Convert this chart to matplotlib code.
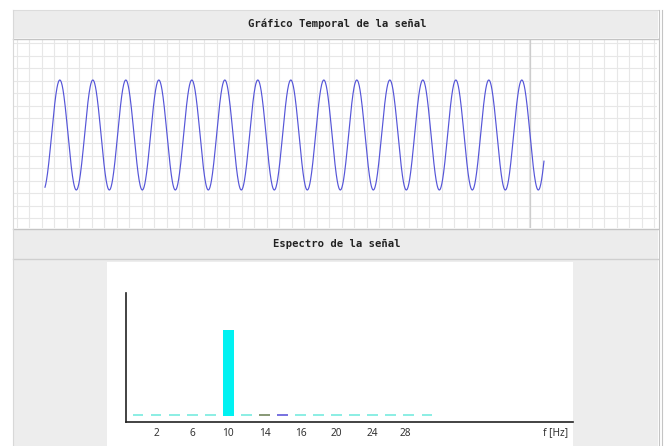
import numpy as np
import matplotlib
matplotlib.use("Agg")
import matplotlib.pyplot as plt
from matplotlib.patches import Rectangle
from matplotlib.lines import Line2D

# ---------------- data ----------------
signal_freq_hz = 10.0          # frequency of the time signal
signal_amplitude = 1.0
signal_phase_rad = -1.25
signal_duration_s = 1.512
signal_samples = 2000

spectrum_values = [0.02, 0.02, 0.02, 0.02, 0.02, 0.98, 0.02, 0.02, 0.02,
                   0.02, 0.02, 0.02, 0.02, 0.02, 0.02, 0.02, 0.02]
spectrum_colors = ['#8eeee4'] * 17
spectrum_colors[5] = '#00f2f2'
spectrum_colors[7] = '#8a9a78'
spectrum_colors[8] = '#7a74e0'
tick_positions = [1, 3, 5, 7, 9, 11, 13, 14.8]
tick_labels = ['2', '6', '10', '14', '16', '20', '24', '28']

title_top = 'Gráfico Temporal de la señal'
title_bottom = 'Espectro de la señal'

# ---------------- figure ----------------
W, H = 665, 446
fig = plt.figure(figsize=(W / 100, H / 100), dpi=100, facecolor='white')


def fx(x):
    return x / W


def fy(y):
    return 1 - y / H


def rect(x0, y0, x1, y1, color, z=0):
    fig.patches.append(Rectangle((fx(x0), fy(y1)), fx(x1) - fx(x0), fy(y0) - fy(y1),
                                 transform=fig.transFigure, facecolor=color,
                                 edgecolor='none', zorder=z))


def hline(x0, x1, y, color, lw=1.0, z=2):
    fig.lines.append(Line2D([fx(x0), fx(x1)], [fy(y), fy(y)], transform=fig.transFigure,
                            color=color, lw=lw, zorder=z))


def vline(x, y0, y1, color, lw=1.0, z=2):
    fig.lines.append(Line2D([fx(x), fx(x)], [fy(y0), fy(y1)], transform=fig.transFigure,
                            color=color, lw=lw, zorder=z))


# header bands & gray panel
rect(13, 10, 658, 38, '#ececec')
rect(13, 229, 658, 259, '#ececec')
rect(13, 259, 658, 446, '#ededed')
rect(107, 262, 573, 446, '#ffffff', z=1)
hline(13, 658, 10, '#dcdcdc', 0.8)
hline(13, 658, 38.5, '#c4c4c4', 1.0)
hline(13, 658, 229, '#c4c4c4', 1.0)
hline(13, 658, 259, '#cfcfcf', 1.0)
vline(13, 10, 446, '#d8d8d8', 0.8)
vline(659, 10, 446, '#c4c4c4', 0.8)
vline(662, 10, 446, '#c4c4c4', 0.8)

fig.text(fx(337), fy(24), title_top, ha='center', va='center',
         family='DejaVu Sans Mono', weight='bold', fontsize=7.6, color='#222222')
fig.text(fx(337), fy(244), title_bottom, ha='center', va='center',
         family='DejaVu Sans Mono', weight='bold', fontsize=7.6, color='#222222')

# ---------------- time plot ----------------
gx0, gx1, gy0, gy1 = 14, 657, 40, 228
axg = fig.add_axes([fx(gx0), fy(gy1), fx(gx1) - fx(gx0), fy(gy0) - fy(gy1)])
axg.set_xlim(gx0, gx1)
axg.set_ylim(gy1, gy0)
axg.set_xticks(np.arange(16.7, gx1, 12.5))
axg.set_yticks(np.arange(43, gy1, 12.5))
axg.grid(True, color='#e7e7e7', lw=0.8)
axg.tick_params(length=0, labelleft=False, labelbottom=False)
for s in axg.spines.values():
    s.set_visible(False)
axg.axvline(530, color='#cdcdcd', lw=0.9)

px_per_s = 330.0
t_start_px = 45.0
mid_px = 135.0
amp_px = 55.0
axw = fig.add_axes(axg.get_position(), facecolor='none')
t = np.linspace(0, signal_duration_s, signal_samples)
y = signal_amplitude * np.sin(2 * np.pi * signal_freq_hz * t + signal_phase_rad)
axw.plot(t, y, color='#5555d8', lw=0.85)
axw.set_xlim((gx0 - t_start_px) / px_per_s, (gx1 - t_start_px) / px_per_s)
axw.set_ylim(-(gy1 - mid_px) / amp_px, (mid_px - gy0) / amp_px)
axw.axis('off')

# ---------------- spectrum ----------------
sx0, sx1, sy0, sy1 = 126, 573, 293, 422
axs = fig.add_axes([fx(sx0), fy(sy1), fx(sx1) - fx(sx0), fy(sy0) - fy(sy1)], facecolor='none')
axs.set_zorder(3)
idx = np.arange(len(spectrum_values))
axs.bar(idx, spectrum_values, width=0.6, color=spectrum_colors, linewidth=0)
bar_px = 18.06
axs.set_xlim((sx0 - 138) / bar_px, (sx1 - 138) / bar_px)
axs.set_ylim(-0.07, 1.4)
axs.set_xticks(tick_positions)
axs.set_xticklabels(tick_labels, family='Noto Sans', fontsize=7.3, color='#333333')
axs.set_yticks([])
axs.tick_params(axis='x', length=0, pad=4)
for s in ['top', 'right']:
    axs.spines[s].set_visible(False)
axs.spines['left'].set_color('#222222')
axs.spines['bottom'].set_color('#222222')
axs.spines['left'].set_linewidth(1.2)
axs.spines['bottom'].set_linewidth(1.2)
fig.text(fx(556), fy(433), 'f [Hz]', ha='center', va='center',
         family='Noto Sans', fontsize=7.3, color='#333333', zorder=5)

fig.savefig('out.png', dpi=100, facecolor='white')
